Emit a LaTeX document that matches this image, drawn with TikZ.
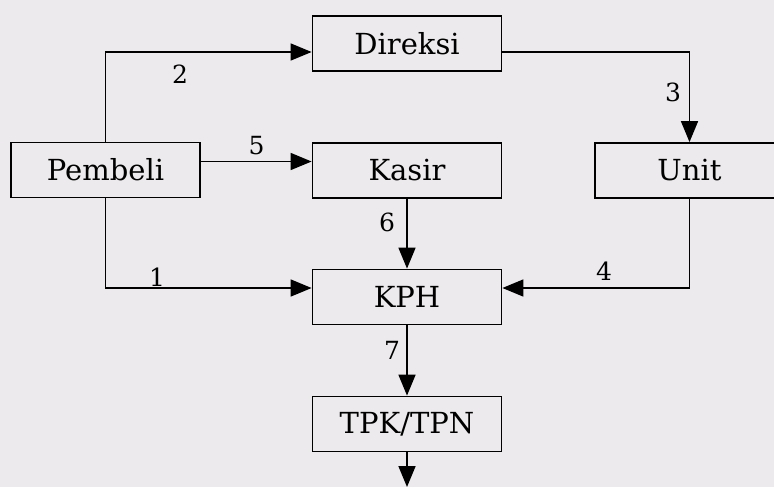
\documentclass[tikz,border=0pt]{standalone}
\usepackage{fontspec}
\setmainfont{DejaVu Serif}
\usetikzlibrary{arrows.meta}
\definecolor{paper}{RGB}{236,234,236}
\tikzset{
  box/.style={draw, line width=0.9pt, minimum width=94.5pt, minimum height=27.5pt, inner sep=0pt, font=\fontsize{14.5}{17}\selectfont},
  num/.style={inner sep=0pt, font=\fontsize{12.5}{15}\selectfont},
  flow/.style={-{Triangle[length=10.5pt,width=8.5pt]}, line width=0.8pt}
}

\begin{document}
\begin{tikzpicture}[x=0.5pt, y=-0.5pt]
    \useasboundingbox (0,0) rectangle (774,487);
    \fill[paper] (0,0) rectangle (774,487);
    \clip (0,0) rectangle (774,487);
% Boxes
    \node[box] (pembeli) at (105.5,170) {Pembeli};
    \node[box] (direksi) at (407,43.5) {Direksi};
    \node[box] (kasir) at (407,170.5) {Kasir};
    \node[box] (unit) at (689.5,170.5) {Unit};
    \node[box] (kph) at (407,297) {KPH};
    \node[box] (tpk) at (407,424) {TPK/TPN};
    \coordinate (out) at (407,487);
% Arrows
    \draw[flow] (pembeli.north) |- ([yshift=-4.25pt]direksi.west);
    \draw[flow] ([yshift=-4.25pt]direksi.east) -| (unit.north);
    \draw[flow] ([yshift=4.25pt]pembeli.east) -- ([yshift=4.5pt]kasir.west);
    \draw[flow] (pembeli.south) |- ([yshift=4.5pt]kph.west);
    \draw[flow] (unit.south) |- ([yshift=4.5pt]kph.east);
    \draw[flow] (kasir.south) -- (kph.north);
    \draw[flow] (kph.south) -- (tpk.north);
    \draw[flow] (tpk.south) -- (out);
% Numbers
    \node[num] (n1) at (157,277) {1};
    \node[num] (n2) at (180,74.5) {2};
    \node[num] (n3) at (673,92.5) {3};
    \node[num] (n4) at (604,271) {4};
    \node[num] (n5) at (256.5,145.5) {5};
    \node[num] (n6) at (387,222) {6};
    \node[num] (n7) at (392,350) {7};
\end{tikzpicture}
\end{document}
